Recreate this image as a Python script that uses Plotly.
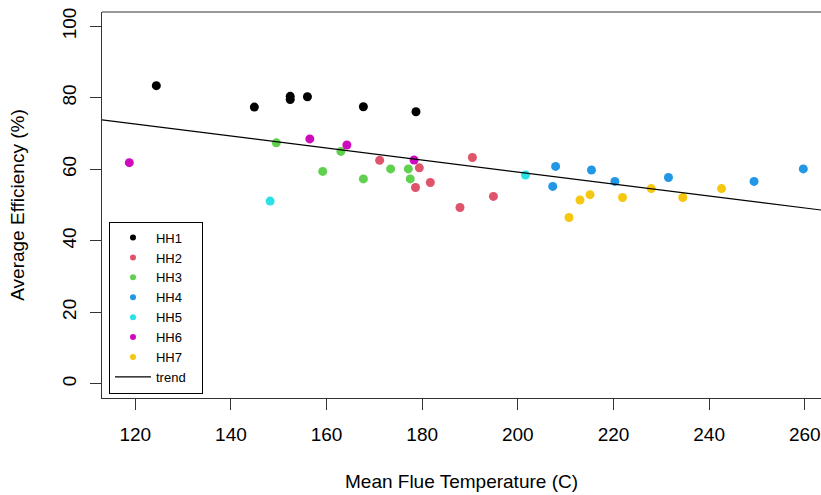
import plotly.graph_objects as go

# ---- data ----
groups = ["HH1", "HH2", "HH3", "HH4", "HH5", "HH6", "HH7"]
colors = ["#000000", "#DF536B", "#61D04F", "#2297E6", "#28E2E5", "#CD0BBC", "#F5C710"]

hh1_x = [124.4, 144.9, 152.4, 152.4, 156.0, 167.7, 178.7]
hh1_y = [83.4, 77.4, 80.4, 79.5, 80.3, 77.5, 76.1]
hh2_x = [171.1, 179.4, 178.6, 181.7, 190.5, 187.9, 194.9]
hh2_y = [62.5, 60.4, 54.9, 56.3, 63.3, 49.3, 52.4]
hh3_x = [149.5, 159.2, 163.0, 167.7, 173.4, 177.1, 177.5]
hh3_y = [67.4, 59.4, 65.0, 57.3, 60.1, 60.1, 57.3]
hh4_x = [207.9, 207.3, 215.4, 220.3, 231.5, 249.4, 259.7]
hh4_y = [60.8, 55.2, 59.8, 56.6, 57.7, 56.6, 60.1]
hh5_x = [148.2, 201.6]
hh5_y = [51.1, 58.4]
hh6_x = [118.75, 156.5, 164.25, 178.3]
hh6_y = [61.85, 68.5, 66.8, 62.6]
hh7_x = [210.7, 213.0, 215.1, 221.9, 227.9, 234.5, 242.6]
hh7_y = [46.5, 51.4, 52.9, 52.1, 54.6, 52.1, 54.6]

xs = [hh1_x, hh2_x, hh3_x, hh4_x, hh5_x, hh6_x, hh7_x]
ys = [hh1_y, hh2_y, hh3_y, hh4_y, hh5_y, hh6_y, hh7_y]

trend_intercept = 92.75
trend_slope = -0.1676

x_range = [113.04, 263.4]
y_range = [-4.0, 104.0]
x_ticks = [120, 140, 160, 180, 200, 220, 240, 260]
y_ticks = [0, 20, 40, 60, 80, 100]

FONT = "Liberation Sans, Arial, sans-serif"

fig = go.Figure()
for g, c, x, y in zip(groups, colors, xs, ys):
    fig.add_trace(go.Scatter(
        x=x, y=y, mode="markers", name=g, legendgroup=g, showlegend=False,
        marker=dict(color=c, size=9, line=dict(width=0)),
    ))
    # legend entry with a smaller symbol, as in the reference
    fig.add_trace(go.Scatter(
        x=[None], y=[None], mode="markers", name=g, legendgroup=g, showlegend=True,
        marker=dict(color=c, size=6, line=dict(width=0)),
    ))

tx = [x_range[0] - 5, x_range[1] + 5]
ty = [trend_intercept + trend_slope * v for v in tx]
fig.add_trace(go.Scatter(x=tx, y=ty, mode="lines", name="trend" + "\u00a0" * 3,
                         line=dict(color="#000000", width=1.2)))

fig.update_layout(
    width=821, height=495,
    margin=dict(l=102, r=0, t=12, b=97),
    paper_bgcolor="white", plot_bgcolor="white",
    font=dict(family=FONT, color="#000000", size=19),
    showlegend=True,
    legend=dict(
        x=0.0097, y=0.0114, xanchor="left", yanchor="bottom",
        bordercolor="#000000", borderwidth=1, bgcolor="white",
        font=dict(size=13, family=FONT, color="#000000"),
        itemwidth=36, tracegroupgap=0,
    ),
    shapes=[
        dict(type="line", xref="paper", yref="paper", x0=0, x1=1.05, y0=1, y1=1,
             line=dict(color="#333333", width=1)),
    ],
)

fig.update_xaxes(
    range=x_range, tickvals=x_ticks, ticktext=[str(v) for v in x_ticks],
    showgrid=False, zeroline=False, showline=True, linecolor="#333333", linewidth=1,
    ticks="outside", ticklen=11, tickcolor="#333333", tickwidth=1,
    tickfont=dict(size=19), ticklabelstandoff=8,
    title=dict(text="Mean Flue Temperature (C)", font=dict(size=19), standoff=30),
)
fig.update_yaxes(
    range=y_range, tickvals=y_ticks, ticktext=[str(v) for v in y_ticks],
    showgrid=False, zeroline=False, showline=True, linecolor="#333333", linewidth=1,
    ticks="outside", ticklen=11, tickcolor="#333333", tickwidth=1,
    tickangle=-90, tickfont=dict(size=19), ticklabelstandoff=6,
    title=dict(text="Average Efficiency (%)", font=dict(size=19), standoff=29),
)

fig.write_html("out.html")
